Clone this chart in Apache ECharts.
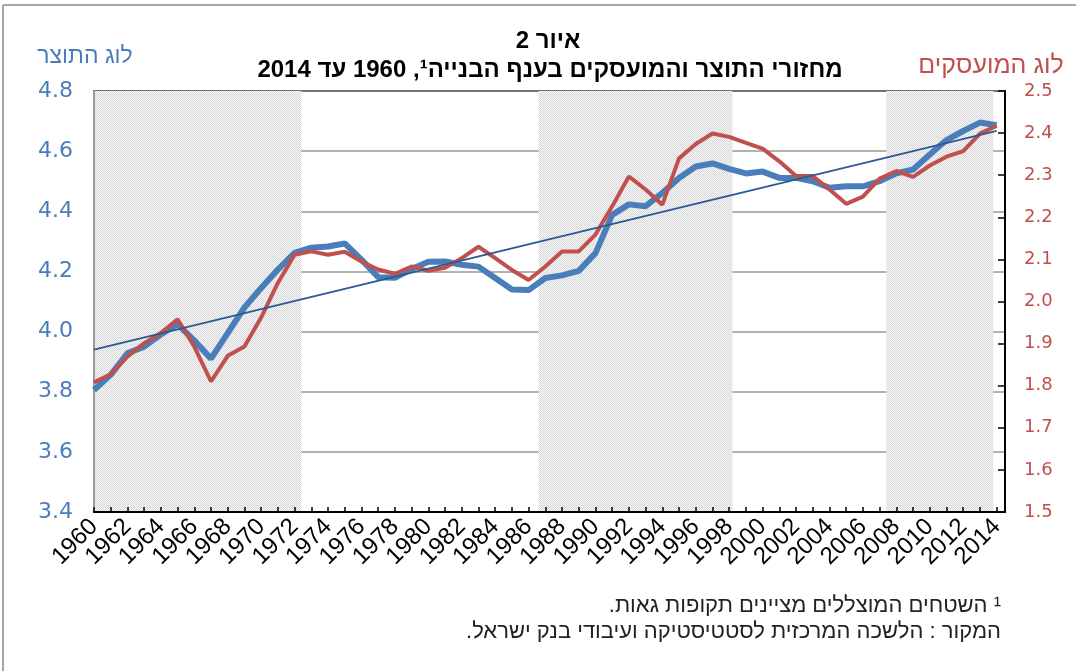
<!DOCTYPE html>
<html>
<head>
<meta charset="utf-8">
<script src="https://cdn.jsdelivr.net/npm/echarts@6/dist/echarts.min.js"></script>
<style>
html,body{margin:0;padding:0;background:#fff;}
#c{width:1081px;height:671px;direction:rtl;}
</style>
</head>
<body>
<div id="c"></div>
<script>
// ---- data ----
const years = [1960,1961,1962,1963,1964,1965,1966,1967,1968,1969,1970,1971,1972,1973,1974,1975,1976,1977,1978,1979,1980,1981,1982,1983,1984,1985,1986,1987,1988,1989,1990,1991,1992,1993,1994,1995,1996,1997,1998,1999,2000,2001,2002,2003,2004,2005,2006,2007,2008,2009,2010,2011,2012,2013,2014];
const logOutput = [3.806,3.856,3.928,3.950,3.990,4.025,3.970,3.910,3.995,4.080,4.145,4.206,4.262,4.279,4.283,4.293,4.239,4.181,4.179,4.208,4.232,4.233,4.222,4.216,4.178,4.140,4.138,4.178,4.187,4.202,4.261,4.388,4.423,4.417,4.461,4.511,4.549,4.559,4.541,4.526,4.532,4.511,4.511,4.500,4.478,4.483,4.483,4.500,4.526,4.539,4.589,4.637,4.667,4.695,4.686];
const logEmployed = [1.808,1.827,1.869,1.901,1.925,1.958,1.893,1.810,1.871,1.893,1.962,2.044,2.111,2.119,2.111,2.118,2.095,2.076,2.066,2.083,2.073,2.080,2.103,2.130,2.103,2.075,2.051,2.083,2.119,2.119,2.159,2.226,2.297,2.266,2.230,2.340,2.374,2.399,2.391,2.377,2.363,2.333,2.298,2.298,2.266,2.232,2.249,2.292,2.310,2.296,2.323,2.344,2.357,2.399,2.417];
const trendYears = [1960, 2014];
const trendValues = [3.94, 4.667];
const boomPeriods = [[1960, 1972.4], [1986.6, 1998.2], [2007.4, 2013.8]];
const leftTicks = {min: 3.4, max: 4.8, step: 0.2};
const rightTicks = {min: 1.5, max: 2.5, step: 0.1};

const titleLine1 = 'איור 2';
const titleLine2 = 'מחזורי התוצר והמועסקים בענף הבנייה\u00B9, 1960 עד 2014';
const leftName = 'לוג התוצר';
const rightName = 'לוג המועסקים';
const note1 = '\u00B9 השטחים המוצללים מציינים תקופות גאות.';
const note2 = 'המקור : הלשכה המרכזית לסטטיסטיקה ועיבודי בנק ישראל.';

// ---- styles ----
const BLUE = '#4a7ebb', RED = '#c0504d', TREND = '#2a5a94';
const pc = document.createElement('canvas');
pc.width = 2; pc.height = 2;
const pctx = pc.getContext('2d');
pctx.fillStyle = '#f5f5f5'; pctx.fillRect(0,0,2,2);
pctx.fillStyle = '#dadada'; pctx.fillRect(0,0,1,1); pctx.fillRect(1,1,1,1);

const chart = echarts.init(document.getElementById('c'), null, {renderer:'canvas'});

chart.setOption({
  animation: false,
  backgroundColor: '#fff',
  grid: {left: 94, top: 91, width: 911, height: 421, show: true, borderColor: '#000', borderWidth: 2, backgroundColor: 'transparent'},
  xAxis: {
    type: 'value', min: years[0], max: years[years.length-1] + 0.5, interval: 1,
    axisLine: {show: true, lineStyle: {color: '#000', width: 2}},
    axisTick: {show: true, inside: true, length: 5, lineStyle: {color: '#000', width: 1.5}},
    splitLine: {show: false},
    axisLabel: {
      rotate: 45, margin: 11, color: '#000',
      formatter: v => (Number.isInteger(v) && v % 2 === 0) ? '{y|' + v + '}' : '',
      rich: {y: {fontSize: 24, fontFamily: "'Liberation Sans Narrow', 'Liberation Sans', sans-serif", color: '#000'}}
    },
    z: 1
  },
  yAxis: [{
    type: 'value', min: leftTicks.min, max: leftTicks.max, interval: leftTicks.step, position: 'left',
    axisLine: {show: true, lineStyle: {color: '#9a9a9a', width: 2}},
    axisTick: {show: false},
    splitLine: {show: true, lineStyle: {color: '#999', width: 1.5}},
    axisLabel: {color: BLUE, fontSize: 22, fontFamily: "'DejaVu Sans', sans-serif", margin: 21, formatter: v => v.toFixed(1)},
    z: 1
  }, {
    type: 'value', min: rightTicks.min, max: rightTicks.max, interval: rightTicks.step, position: 'right',
    axisLine: {show: true, lineStyle: {color: '#000', width: 2}},
    axisTick: {show: true, inside: true, length: 7, lineStyle: {color: '#000', width: 1.5}},
    splitLine: {show: false},
    axisLabel: {color: RED, fontSize: 18, fontFamily: "'DejaVu Sans', sans-serif", margin: 19, formatter: v => v.toFixed(1)},
    z: 1
  }],
  series: [{
    type: 'line', name: 'shade', data: [], z: -1, silent: true,
    markArea: {silent: true, itemStyle: {color: {image: pc, repeat: 'repeat'}},
      data: boomPeriods.map(p => [{xAxis: p[0]}, {xAxis: p[1]}])}
  }, {
    type: 'line', name: leftName, yAxisIndex: 0, z: 3,
    data: years.map((y, i) => [y, logOutput[i]]),
    showSymbol: false, lineStyle: {color: BLUE, width: 6}, itemStyle: {color: BLUE}
  }, {
    type: 'line', name: rightName, yAxisIndex: 1, z: 4,
    data: years.map((y, i) => [y, logEmployed[i]]),
    showSymbol: false, lineStyle: {color: RED, width: 4}, itemStyle: {color: RED}
  }, {
    type: 'line', name: 'trend', yAxisIndex: 0, z: 5,
    data: trendYears.map((y, i) => [y, trendValues[i]]),
    showSymbol: false, lineStyle: {color: TREND, width: 1.8}, itemStyle: {color: TREND}
  }],
  graphic: [
    {type: 'line', shape: {x1: 3, y1: 5, x2: 1076, y2: 5}, style: {stroke: '#a6a6a6', lineWidth: 2}},
    {type: 'line', shape: {x1: 3, y1: 5, x2: 3, y2: 671}, style: {stroke: '#a6a6a6', lineWidth: 2}},
    {type: 'text', x: 548, y: 41, style: {text: titleLine1, font: "bold 24px 'Liberation Sans', sans-serif", fill: '#000', textAlign: 'center', textVerticalAlign: 'middle'}},
    {type: 'text', x: 550, y: 70, style: {text: titleLine2, font: "bold 24px 'Liberation Sans', sans-serif", fill: '#000', textAlign: 'center', textVerticalAlign: 'middle'}},
    {type: 'text', x: 85, y: 57, style: {text: leftName, font: "23px 'Liberation Sans', sans-serif", fill: BLUE, textAlign: 'center', textVerticalAlign: 'middle'}},
    {type: 'text', x: 991, y: 66, style: {text: rightName, font: "25px 'Liberation Sans', sans-serif", fill: RED, textAlign: 'center', textVerticalAlign: 'middle'}},
    {type: 'text', x: 1001, y: 606, style: {text: note1, font: "22px 'Liberation Sans', sans-serif", fill: '#222', textAlign: 'right', textVerticalAlign: 'middle'}},
    {type: 'text', x: 1001, y: 632, style: {text: note2, font: "22px 'Liberation Sans', sans-serif", fill: '#222', textAlign: 'right', textVerticalAlign: 'middle'}}
  ]
});
</script>
</body>
</html>
